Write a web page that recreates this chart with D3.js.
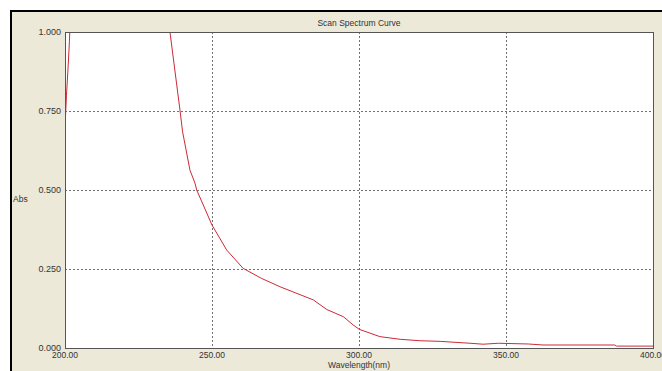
<!DOCTYPE html>
<html>
<head>
<meta charset="utf-8">
<script src="https://cdn.jsdelivr.net/npm/d3@7"></script>
<style>
  body { margin: 0; background: #ffffff; }
  svg { display: block; }
</style>
</head>
<body>
<div id="chart"></div>
<script>
// scan data (values above 1.000 run off the top)
const wavelengths = [200, 200.5, 201, 201.5, 202, 203, 233, 235.7, 239.1, 240, 242.5, 244.2, 244.8, 250, 255, 260.6, 266.9, 273.1, 284.5, 289, 294.7, 298, 300.1, 307.1, 314, 320.7, 327.6, 337.8, 342.2, 347.4, 357.6, 362.6, 387, 387.6, 400];
const absValues   = [0.70, 0.80, 0.88, 0.97, 1.08, 1.25, 1.20, 1.00, 0.753, 0.684, 0.563, 0.522, 0.50, 0.389, 0.31, 0.252, 0.22, 0.194, 0.152, 0.122, 0.099, 0.073, 0.059, 0.036, 0.0275, 0.023, 0.021, 0.015, 0.012, 0.015, 0.0127, 0.0095, 0.0095, 0.006, 0.006];

const xTicks = [200, 250, 300, 350, 400];
const yTicks = [0, 0.25, 0.5, 0.75, 1];

const chartTitle = "Scan Spectrum Curve";
const xTitle = "Wavelength(nm)";
const yTitle = "Abs";

const width = 662, height = 371;
const margin = { top: 32, right: 9, bottom: 23, left: 65 };

const data = wavelengths.map((w, i) => ({ w: w, a: absValues[i] }));

const svg = d3.select("#chart")
  .append("svg")
  .attr("width", width)
  .attr("height", height)
  .style("font-family", "'Liberation Sans', Arial, sans-serif");

// window panel
svg.append("rect")
  .attr("x", 10).attr("y", 10)
  .attr("width", width - 10).attr("height", height - 10)
  .attr("fill", "#ece9d8");
svg.append("line")
  .attr("x1", 10).attr("x2", width).attr("y1", 11).attr("y2", 11)
  .attr("stroke", "#000").attr("stroke-width", 2);
svg.append("line")
  .attr("x1", 11).attr("x2", 11).attr("y1", 10).attr("y2", height)
  .attr("stroke", "#000").attr("stroke-width", 2);

const xScale = d3.scaleLinear()
  .domain([200, 400])
  .range([margin.left, width - margin.right]);

const yScale = d3.scaleLinear()
  .domain([0, 1])
  .range([height - margin.bottom, margin.top]);

// plot area
svg.append("rect")
  .attr("x", xScale(200)).attr("y", yScale(1))
  .attr("width", xScale(400) - xScale(200))
  .attr("height", yScale(0) - yScale(1))
  .attr("fill", "#ffffff");

svg.append("clipPath")
  .attr("id", "plotclip")
  .append("rect")
  .attr("x", xScale(200)).attr("y", yScale(1))
  .attr("width", xScale(400) - xScale(200))
  .attr("height", yScale(0) - yScale(1));

// dotted grid
svg.append("g")
  .selectAll("line")
  .data(xTicks.slice(1, -1))
  .join("line")
  .attr("x1", d => Math.round(xScale(d)) + 0.5)
  .attr("x2", d => Math.round(xScale(d)) + 0.5)
  .attr("y1", yScale(1)).attr("y2", yScale(0))
  .attr("stroke", "#707070").attr("stroke-dasharray", "2,2");

svg.append("g")
  .selectAll("line")
  .data(yTicks.slice(1, -1))
  .join("line")
  .attr("x1", xScale(200)).attr("x2", xScale(400))
  .attr("y1", d => Math.round(yScale(d)) + 0.5)
  .attr("y2", d => Math.round(yScale(d)) + 0.5)
  .attr("stroke", "#707070").attr("stroke-dasharray", "2,2");

// curve
const line = d3.line()
  .x(d => xScale(d.w))
  .y(d => yScale(d.a));

svg.append("path")
  .datum(data)
  .attr("clip-path", "url(#plotclip)")
  .attr("fill", "none")
  .attr("stroke", "#cc2a36")
  .attr("stroke-width", 1)
  .attr("d", line);

// plot frame
svg.append("rect")
  .attr("x", xScale(200) + 0.5).attr("y", yScale(1) + 0.5)
  .attr("width", xScale(400) - xScale(200))
  .attr("height", yScale(0) - yScale(1))
  .attr("fill", "none")
  .attr("stroke", "#555");

// tick labels
svg.append("g")
  .selectAll("text")
  .data(yTicks)
  .join("text")
  .attr("x", margin.left - 4)
  .attr("y", d => yScale(d) + 3)
  .attr("text-anchor", "end")
  .attr("font-size", 9)
  .attr("fill", "#333")
  .text(d => d3.format(".3f")(d));

svg.append("g")
  .selectAll("text")
  .data(xTicks)
  .join("text")
  .attr("x", d => xScale(d))
  .attr("y", height - margin.bottom + 10)
  .attr("text-anchor", "middle")
  .attr("font-size", 8.5)
  .attr("fill", "#333")
  .text(d => d3.format(".2f")(d));

// titles
svg.append("text")
  .attr("x", (xScale(200) + xScale(400)) / 2)
  .attr("y", 26)
  .attr("text-anchor", "middle")
  .attr("font-size", 8.5)
  .attr("fill", "#333")
  .text(chartTitle);

svg.append("text")
  .attr("x", (xScale(200) + xScale(400)) / 2)
  .attr("y", height - 3)
  .attr("text-anchor", "middle")
  .attr("font-size", 8.5)
  .attr("fill", "#333")
  .text(xTitle);

svg.append("text")
  .attr("x", 13)
  .attr("y", 202)
  .attr("font-size", 8.5)
  .attr("fill", "#333")
  .text(yTitle);
</script>
</body>
</html>
